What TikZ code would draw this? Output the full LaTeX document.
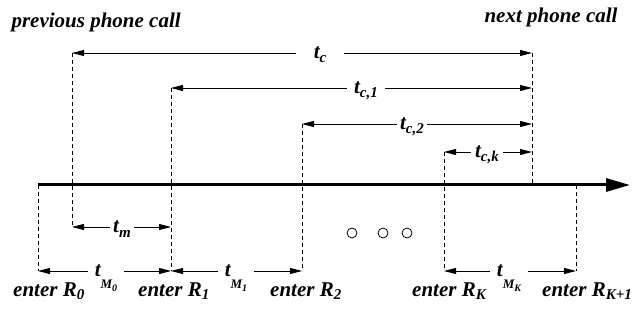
\documentclass[tikz,border=0pt]{standalone}
\usepackage{fontspec}
\setmainfont{Liberation Serif}
\usetikzlibrary{arrows.meta}
% subscripts that keep their width but add no height
\newcommand{\lowsub}[2][4pt]{\raisebox{-#1}[0pt][0pt]{\fontsize{15}{15}\selectfont #2}}
\newcommand{\tMsub}[1]{t\raisebox{-12pt}[0pt][0pt]{\fontsize{13}{13}\selectfont M\raisebox{-3pt}{\fontsize{10}{10}\selectfont #1}}}

\tikzset{
  guide/.style={dash pattern=on 4pt off 3pt, line width=0.7pt},
  dimline/.style={-{Triangle[length=12pt,width=6pt]}, line width=0.9pt},
  timeline/.style={-{Triangle[length=24pt,width=13pt]}, line width=3pt},
  lbl/.style={font=\fontsize{21}{25}\selectfont\bfseries\itshape, inner ysep=0pt},
  dimlbl/.style={lbl, inner xsep=#1},
  dimlbl/.default=8pt
}

\begin{document}
\begin{tikzpicture}[x=1pt,y=-1pt]
  \useasboundingbox (0,0) rectangle (641,323);

  % ends of the dashed guides
  \coordinate (prevT) at (72,53);  \coordinate (prevB) at (72,227);
  \coordinate (nextT) at (532,53); \coordinate (nextB) at (532,185);
  \coordinate (r0T) at (38,185);   \coordinate (r0B) at (38,271);
  \coordinate (r1T) at (171,88);   \coordinate (r1B) at (171,271);
  \coordinate (r2T) at (302,124);  \coordinate (r2B) at (302,271);
  \coordinate (rkT) at (444,152);  \coordinate (rkB) at (444,271);
  \coordinate (rk1T) at (576,185); \coordinate (rk1B) at (576,271);
  \coordinate (axL) at (38,185);   \coordinate (axR) at (630,185);

  \foreach \g in {prev,next,r0,r1,r2,rk,rk1}
    \draw[guide] (\g T) -- (\g B);

  \draw[timeline] (axL) -- (axR);

  % call intervals
  \node[dimlbl=18pt] (tc) at (320,53) {t\lowsub{c}};
  \draw[dimline] (tc) -- (prevT);
  \draw[dimline] (tc) -- (nextT);
  \node[dimlbl=7pt] (tc1) at (366,88) {t\lowsub{c,1}};
  \draw[dimline] (tc1) -- (r1T);
  \draw[dimline] (tc1) -- (tc1 -| nextT);
  \node[dimlbl=3pt] (tc2) at (412,124) {t\lowsub{c,2}};
  \draw[dimline] (tc2) -- (r2T);
  \draw[dimline] (tc2) -- (tc2 -| nextT);
  \node[dimlbl=4pt] (tck) at (487,152) {t\lowsub{c,k}};
  \draw[dimline] (tck) -- (rkT);
  \draw[dimline] (tck) -- (tck -| nextT);

  % residence times
  \node[dimlbl=3pt] (tm) at (122,227) {t\lowsub[5pt]{m}};
  \draw[dimline] (tm) -- (prevB);
  \draw[dimline] (tm) -- (tm -| r1B);
  \node[dimlbl=7pt] (tM0) at (106,271) {\tMsub{0}};
  \draw[dimline] (tM0) -- (r0B);
  \draw[dimline] (tM0) -- (r1B);
  \node[dimlbl=7pt] (tM1) at (236,271) {\tMsub{1}};
  \draw[dimline] (tM1) -- (r1B);
  \draw[dimline] (tM1) -- (r2B);
  \node[dimlbl=7pt] (tMK) at (509,271) {\tMsub{K}};
  \draw[dimline] (tMK) -- (rkB);
  \draw[dimline] (tMK) -- (rk1B);

  \foreach \x [count=\i] in {352,383,407}
    \node[circle, draw, line width=0.8pt, minimum size=10pt, inner sep=0pt] (dot\i) at (\x,233) {};

  \node[lbl, anchor=base west] (prevcall) at (8,28) {previous phone call};
  \node[lbl, anchor=base west] (nextcall) at (481,23) {next phone call};
  \foreach \x/\n/\s in {13/0/0, 138/1/1, 270/2/2, 412/3/K, 542/4/K+1}
    \node[lbl, anchor=base west, inner xsep=0pt] (enter\n) at (\x,297) {enter R\lowsub[3pt]{\s}};
\end{tikzpicture}
\end{document}
